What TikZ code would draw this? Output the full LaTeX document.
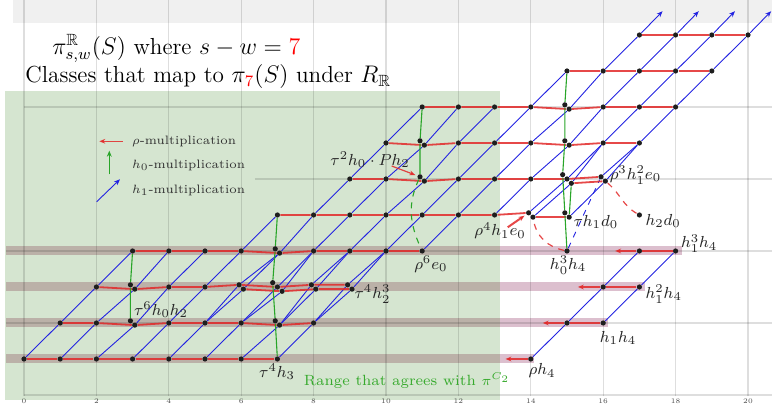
\documentclass[tikz,border=0pt]{standalone}
\usepackage{amssymb}
\usetikzlibrary{arrows.meta}
\definecolor{crho}{RGB}{226,40,40}
\definecolor{cone}{RGB}{35,35,225}
\definecolor{czero}{RGB}{40,165,40}
\definecolor{greenbg}{RGB}{213,229,208}
\definecolor{bandgray}{RGB}{187,177,168}
\definecolor{bandpink}{RGB}{220,191,206}
\definecolor{topgray}{RGB}{240,240,240}
\definecolor{dotc}{RGB}{30,30,30}
\definecolor{rangegreen}{RGB}{55,170,45}
\pgfdeclarelayer{back}
\pgfdeclarelayer{lines}
\pgfsetlayers{back,lines,main}
\tikzset{
 dot/.style={circle,fill=dotc,inner sep=0pt,minimum size=2.6pt},
 rhol/.style={crho,line width=0.9pt,opacity=0.85},
 onel/.style={cone,line width=0.45pt},
 zerol/.style={czero,line width=0.55pt},
 lbl/.style={font=\fontsize{8.1}{9}\selectfont,inner sep=0pt,text=black!85},
 leg/.style={font=\fontsize{6.1}{7}\selectfont,inner sep=0pt,anchor=west,text=black!80},
 gridl/.style={black,opacity=0.13,line width=0.6pt},
 axl/.style={font=\fontsize{3.5}{4}\selectfont,text=black!70},
 tip/.style={-{Stealth[length=3pt,width=2.4pt]}},
}
\newcommand\dt[3]{\node[dot] (#1) at (#2,#3) {};}
\begin{document}
\begin{tikzpicture}[x=18.1pt,y=18pt]
\useasboundingbox (-0.663,-1.278) rectangle (20.663,9.972);
\begin{pgfonlayer}{back}
 \fill[topgray] (-0.304,9.333) rectangle (20.663,9.972);
 \fill[greenbg] (-0.525,-1.139) rectangle (13.149,7.444);
 \foreach \r/\e in {0/14.08,1/16.12,2/17.15,3/18.17}{
   \fill[bandgray] (-0.51,\r-0.125) rectangle (13.149,\r+0.125);
   \fill[bandpink] (13.149,\r-0.125) rectangle (\e,\r+0.125);
 }
 \foreach \s in {0,2,...,20}{
   \draw[gridl] (\s,-1.03) -- (\s,9.972);
   \node[axl] (ax\s) at (\s,-1.17) {\s};
 }
 \draw[gridl] (0,-1) -- (20.663,-1);
 \draw[gridl] (-0.5,1) -- (20.663,1);
 \draw[gridl] (-0.5,3) -- (20.663,3);
 \draw[gridl] (6.38,5) -- (20.663,5);
 \draw[gridl] (0,7) -- (20.663,7);
\end{pgfonlayer}

% dots
\foreach \s in {0,...,7}{\dt{d\s x0}{\s}{0}}
\dt{d14x0}{14}{0}
\dt{d1x1}{1}{1}\dt{d2x1}{2}{1}\dt{d3x1u}{2.94}{1.06}\dt{d3x1l}{3.06}{0.94}
\dt{d4x1}{4}{1}\dt{d5x1}{5}{1}\dt{d6x1}{6}{1}\dt{d7x1u}{6.94}{1.06}\dt{d7x1l}{7.06}{0.94}
\dt{d8x1}{8}{1}\dt{d15x1}{15}{1}\dt{d16x1}{16}{1}
\dt{d2x2}{2}{2}\dt{d3x2u}{2.94}{2.06}\dt{d3x2l}{3.06}{1.94}\dt{d4x2}{4}{2}\dt{d5x2}{5}{2}
\dt{d6x2u}{5.94}{2.06}\dt{d6x2l}{6.06}{1.94}
\dt{d7x2u}{6.87}{2.12}\dt{d7x2m}{7}{2}\dt{d7x2l}{7.13}{1.88}
\dt{d8x2u}{7.94}{2.06}\dt{d8x2l}{8.06}{1.94}\dt{d9x2u}{8.94}{2.06}\dt{d9x2l}{9.06}{1.94}
\dt{d16x2}{16}{2}\dt{d17x2}{17}{2}
\foreach \s in {3,4,5,6,8,9,10,11}{\dt{d\s x3}{\s}{3}}
\dt{d7x3u}{6.94}{3.06}\dt{d7x3l}{7.06}{2.94}
\dt{d15x3}{15}{3}\dt{d17x3}{17}{3}\dt{d18x3}{18}{3}
\foreach \s in {7,...,13}{\dt{d\s x4}{\s}{4}}
\dt{d14x4u}{13.94}{4.06}\dt{d14x4l}{14.06}{3.94}\dt{d15x4u}{14.94}{4.06}\dt{d15x4l}{15.06}{3.94}
\dt{d17x4}{17}{4}
\foreach \s in {9,10,12,13,14}{\dt{d\s x5}{\s}{5}}
\dt{d11x5u}{10.94}{5.06}\dt{d11x5l}{11.06}{4.94}
\dt{d15x5u}{14.88}{5.12}\dt{d15x5m}{15}{5}\dt{d15x5l}{15.12}{4.88}
\dt{d16x5u}{15.94}{5.06}\dt{d16x5l}{16.06}{4.94}
\foreach \s in {10,12,13,14,16,17}{\dt{d\s x6}{\s}{6}}
\dt{d11x6u}{10.94}{6.06}\dt{d11x6l}{11.06}{5.94}\dt{d15x6u}{14.94}{6.06}\dt{d15x6l}{15.06}{5.94}
\foreach \s in {11,12,13,14,16,17,18}{\dt{d\s x7}{\s}{7}}
\dt{d15x7u}{14.94}{7.06}\dt{d15x7l}{15.06}{6.94}
\foreach \s in {15,...,19}{\dt{d\s x8}{\s}{8}}
\foreach \s in {17,...,20}{\dt{d\s x9}{\s}{9}}

% free ends
\coordinate (e0) at (13.3,0);
\coordinate (e1) at (14.33,1);
\coordinate (e2) at (15.3,2);
\coordinate (e3) at (16.33,3);
\coordinate (t17) at (17.64,9.66);
\coordinate (t18) at (18.64,9.66);
\coordinate (t19) at (19.64,9.66);
\coordinate (t20) at (20.64,9.66);

\begin{pgfonlayer}{lines}
% h1 lines
\draw[onel] (d0x0)--(d1x1)--(d2x2)--(d3x3);
\draw[onel] (d1x0)--(d2x1)--(d3x2l)--(d4x3);
\draw[onel] (d2x0)--(d3x1l)--(d4x2)--(d5x3);
\draw[onel] (d3x0)--(d4x1)--(d5x2)--(d6x3)--(d7x4);
\draw[onel] (d4x0)--(d5x1)--(d6x2l)--(d7x3l)--(d8x4)--(d9x5)--(d10x6)--(d11x7);
\draw[onel] (d5x1)--(d6x2u)--(d7x3l);
\draw[onel] (d5x0)--(d6x1)--(d7x2l)--(d8x3)--(d9x4)--(d10x5)--(d11x6l)--(d12x7);
\draw[onel] (d6x1)--(d7x2m)--(d8x3);
\draw[onel] (d6x0)--(d7x1l)--(d8x2l)--(d9x3)--(d10x4)--(d11x5l)--(d12x6)--(d13x7);
\draw[onel] (d7x1l)--(d8x2u)--(d9x3);
\draw[onel] (d7x0)--(d8x1)--(d9x2l)--(d10x3)--(d11x4)--(d12x5)--(d13x6)--(d14x7)--(d15x8);
\draw[onel] (d8x1)--(d9x2u)--(d10x3);
\draw[onel] (d11x3)--(d12x4)--(d13x5)--(d14x6)--(d15x7l)--(d16x8)--(d17x9);
\draw[onel] (d13x4)--(d14x5)--(d15x6l)--(d16x7)--(d17x8)--(d18x9);
\draw[onel] (d14x4u)--(d15x5m)--(d16x6);
\draw[onel] (d14x4l)--(d15x5l)--(d16x6)--(d17x7)--(d18x8)--(d19x9);
\draw[onel] (d15x4l)--(d16x5l)--(d17x6);
\draw[onel] (d16x5u)--(d17x6)--(d18x7)--(d19x8)--(d20x9);
\draw[onel] (d14x0)--(d15x1)--(d16x2)--(d17x3);
\draw[onel] (d16x1)--(d17x2)--(d18x3);
\draw[onel,tip] (d17x9)--(t17);
\draw[onel,tip] (d18x9)--(t18);
\draw[onel,tip] (d19x9)--(t19);
\draw[onel,tip] (d20x9)--(t20);
\draw[onel,dashed] (d15x3)--(d16x5u);
% rho lines
\draw[rhol] (d0x0)--(d1x0)--(d2x0)--(d3x0)--(d4x0)--(d5x0)--(d6x0)--(d7x0);
\draw[rhol] (d1x1)--(d2x1)--(d3x1l)--(d4x1)--(d5x1)--(d6x1)--(d7x1l)--(d8x1);
\draw[rhol] (d2x2)--(d3x2l)--(d4x2)--(d5x2)--(d6x2u)--(d7x2m)--(d8x2u)--(d9x2u);
\draw[rhol] (d6x2l)--(d7x2l)--(d8x2l)--(d9x2l);
\draw[rhol] (d3x3)--(d4x3)--(d5x3)--(d6x3)--(d7x3l)--(d8x3)--(d9x3)--(d10x3)--(d11x3);
\draw[rhol] (d7x4)--(d8x4)--(d9x4)--(d10x4)--(d11x4)--(d12x4)--(d13x4)--(d14x4u);
\draw[rhol] (d14x4l)--(d15x4l);
\draw[rhol] (d9x5)--(d10x5)--(d11x5l)--(d12x5)--(d13x5)--(d14x5)--(d15x5m)--(d16x5u);
\draw[rhol] (d15x5l)--(d16x5l);
\draw[rhol] (d10x6)--(d11x6l)--(d12x6)--(d13x6)--(d14x6)--(d15x6l)--(d16x6)--(d17x6);
\draw[rhol] (d11x7)--(d12x7)--(d13x7)--(d14x7)--(d15x7l)--(d16x7)--(d17x7)--(d18x7);
\draw[rhol] (d15x8)--(d16x8)--(d17x8)--(d18x8)--(d19x8);
\draw[rhol] (d17x9)--(d18x9)--(d19x9)--(d20x9);
\draw[rhol,tip] (d14x0)--(e0);
\draw[rhol,tip] (d16x1)--(d15x1)--(e1);
\draw[rhol,tip] (d17x2)--(d16x2)--(e2);
\draw[rhol,tip] (d18x3)--(d17x3)--(e3);
\draw[rhol,dashed,line width=0.6pt] (d15x3) to[out=168,in=-80] (d14x4l);
\draw[rhol,dashed,line width=0.6pt] (d16x5l) to[out=-40,in=150] (d17x4);
% h0 lines
\draw[zerol] (d3x1u)--(d3x2u)--(d3x3);
\draw[zerol] (d7x0)--(d7x1u)--(d7x2u)--(d7x3u)--(d7x4);
\draw[zerol] (d11x7)--(d11x6u)--(d11x5u);
\draw[zerol] (d15x8)--(d15x7u)--(d15x6u)--(d15x5u)--(d15x4u)--(d15x3);
\draw[zerol] (d15x4l)--(d15x5l);
\draw[zerol,dashed] (d11x5u) to[out=245,in=115] (d11x3);
\end{pgfonlayer}

% titles
\node[anchor=base west,inner sep=0pt,font=\fontsize{11.6}{14}\selectfont] (title1) at (0.77,8.47)
  {$\pi^{\mathbb{R}}_{s,w}(S)$ where $s-w=\textcolor{red}{7}$};
\node[anchor=base west,inner sep=0pt,font=\fontsize{11.6}{14}\selectfont] (title2) at (0.03,7.67)
  {Classes that map to $\pi_{\textcolor{red}{7}}(S)$ under $R_{\mathbb{R}}$};

% legend
\coordinate (lr1) at (2.727,6.047); \coordinate (lr2) at (2.08,6.047);
\coordinate (lg1) at (2.356,5.131); \coordinate (lg2) at (2.356,5.786);
\coordinate (lb1) at (2.008,4.369); \coordinate (lb2) at (2.652,4.992);
\draw[rhol,line width=0.6pt,tip] (lr1)--(lr2);
\draw[zerol,tip] (lg1)--(lg2);
\draw[onel,tip] (lb1)--(lb2);
\node[leg] (legr) at (2.975,6.056) {$\rho$-multiplication};
\node[leg] (legg) at (2.975,5.389) {$h_0$-multiplication};
\node[leg] (legb) at (2.975,4.694) {$h_1$-multiplication};

% labels
\node[lbl,anchor=west] (l1) at (3.03,1.36) {$\tau^6h_0h_2$};
\node[lbl] (l2) at (6.99,-0.36) {$\tau^4h_3$};
\node[lbl,anchor=west] (l3) at (9.12,1.8) {$\tau^4h_2^3$};
\node[lbl] (l4) at (11.24,2.64) {$\rho^6e_0$};
\node[lbl] (l5) at (9.56,5.53) {$\tau^2h_0\cdot Ph_2$};
\node[lbl] (l6) at (13.15,3.56) {$\rho^4h_1e_0$};
\node[lbl,anchor=west] (l7) at (15.17,3.8) {$\tau h_1d_0$};
\node[lbl,anchor=west] (l8) at (16.17,5.1) {$\rho^3h_1^2e_0$};
\node[lbl,anchor=west] (l9) at (17.16,3.83) {$h_2d_0$};
\node[lbl] (l10) at (15.03,2.6) {$h_0^3h_4$};
\node[lbl,anchor=west] (l11) at (18.14,3.2) {$h_1^3h_4$};
\node[lbl,anchor=west] (l12) at (17.16,1.8) {$h_1^2h_4$};
\node[lbl] (l13) at (16.41,0.58) {$h_1h_4$};
\node[lbl] (l14) at (14.31,-0.33) {$\rho h_4$};
\node[font=\fontsize{7.4}{9}\selectfont,text=rangegreen,inner sep=0pt] (range) at (10.58,-0.61)
  {Range that agrees with $\pi^{C_2}$};

\coordinate (a5) at (10.157,5.361);
\coordinate (a6) at (13.362,3.658);
\draw[rhol,line width=0.6pt,tip,shorten >=1pt] (a5)--(d11x5u);
\draw[rhol,line width=1pt,tip,shorten >=1pt] (a6)--(d14x4u);
\end{tikzpicture}
\end{document}
